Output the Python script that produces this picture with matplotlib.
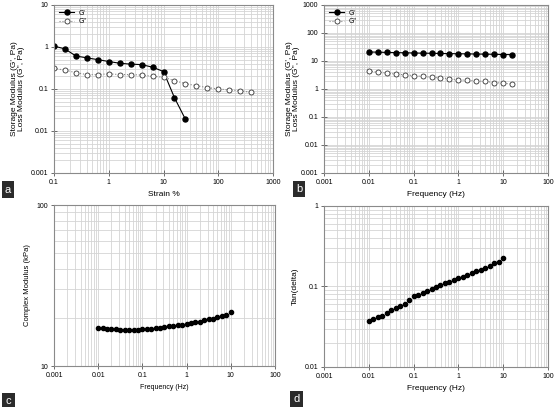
import numpy as np
import matplotlib
matplotlib.use('Agg')
from matplotlib import pyplot as plt
from matplotlib.ticker import LogLocator, FuncFormatter, NullFormatter

plt.rcParams['font.family'] = ['Liberation Sans', 'DejaVu Sans']

# Panel a: strain sweep
strain_g1 = [0.1, 0.158, 0.251, 0.398, 0.631, 1, 1.585, 2.512, 3.981, 6.31, 10, 15.85, 25.12]
g1_strain = [1.05, 0.9, 0.61, 0.55, 0.5, 0.45, 0.41, 0.39, 0.38, 0.33, 0.26, 0.062, 0.019]
strain_g2 = [0.1, 0.158, 0.251, 0.398, 0.631, 1, 1.585, 2.512, 3.981, 6.31, 10, 15.85, 25.12,
             39.81, 63.1, 100, 158.5, 251.2, 398.1]
g2_strain = [0.31, 0.28, 0.245, 0.22, 0.22, 0.23, 0.22, 0.22, 0.215, 0.2, 0.19, 0.158, 0.134,
             0.12, 0.108, 0.1, 0.095, 0.091, 0.083]

# Panel b: frequency sweep
freq_b = [0.01, 0.0158, 0.0251, 0.0398, 0.0631, 0.1, 0.158, 0.251, 0.398, 0.631, 1,
          1.585, 2.512, 3.981, 6.31, 10, 15.85]
g1_freq = [21, 20.6, 20.2, 19.9, 19.6, 19.3, 19.0, 18.8, 18.5, 18.3, 18.1,
           17.9, 17.7, 17.5, 17.3, 17.0, 16.8]
g2_freq = [4.4, 4.0, 3.7, 3.4, 3.2, 3.0, 2.8, 2.6, 2.5, 2.3, 2.1,
           2.05, 1.95, 1.85, 1.7, 1.6, 1.5]

# Panels c and d: 10 points per decade, 0.01 - 10 Hz
freq_cd = [0.01, 0.0126, 0.0158, 0.02, 0.0251, 0.0316, 0.0398, 0.0501, 0.0631, 0.0794,
           0.1, 0.126, 0.158, 0.2, 0.251, 0.316, 0.398, 0.501, 0.631, 0.794,
           1, 1.26, 1.58, 2.0, 2.51, 3.16, 3.98, 5.01, 6.31, 7.94, 10]
complex_mod = [17.3, 17.2, 17.0, 16.95, 16.9, 16.8, 16.8, 16.8, 16.8, 16.8,
               16.9, 16.95, 17.0, 17.2, 17.3, 17.45, 17.6, 17.8, 17.95, 18.1,
               18.3, 18.5, 18.75, 18.9, 19.2, 19.45, 19.7, 20.1, 20.4, 20.8, 21.7]
tan_delta = [0.0378, 0.0396, 0.042, 0.0436, 0.047, 0.0507, 0.0548, 0.0575, 0.0614, 0.0676,
             0.0766, 0.0773, 0.0827, 0.0883, 0.0927, 0.0982, 0.105, 0.109, 0.115, 0.12,
             0.127, 0.132, 0.137, 0.147, 0.156, 0.162, 0.169, 0.18, 0.193, 0.203, 0.226]

GRID = '#d4d4d4'
FRAME = '#8a8a8a'


def style_axes(ax, xlim, ylim, tick_fs=5):
    ax.set_xscale('log')
    ax.set_yscale('log')
    ax.set_xlim(*xlim)
    ax.set_ylim(*ylim)
    for ax_ in (ax.xaxis, ax.yaxis):
        ax_.set_major_locator(LogLocator(base=10, numticks=20))
        ax_.set_minor_locator(LogLocator(base=10, subs=np.arange(2, 10), numticks=20))
        ax_.set_major_formatter(FuncFormatter(lambda v, p: '{:g}'.format(v)))
        ax_.set_minor_formatter(NullFormatter())
    ax.grid(True, which='both', color=GRID, linewidth=0.6)
    ax.set_axisbelow(True)
    for s in ax.spines.values():
        s.set_color(FRAME)
        s.set_linewidth(0.8)
    ax.tick_params(which='major', direction='inout', length=4, width=0.6, color='#555555',
                   labelsize=tick_fs, pad=2)
    ax.tick_params(which='minor', length=0)


def panel_tag(fig, x, y, letter):
    fig.text(x, y, letter, color='white', fontsize=8, ha='center', va='center',
             bbox=dict(boxstyle='square,pad=0.3', fc='#2b2b2b', ec='none'))


fig = plt.figure(figsize=(5.55, 4.07), dpi=100)

# a
ax = fig.add_axes([0.0973, 0.575, 0.3946, 0.4128])
style_axes(ax, (0.1, 1000), (0.001, 10))
ax.plot(strain_g1, g1_strain, '-', color='black', lw=0.8, marker='o', ms=3.6,
        mfc='black', mec='black', label="G'")
ax.plot(strain_g2, g2_strain, ':', color='#888888', lw=0.8, marker='o', ms=3.6,
        mfc='white', mec='#333333', mew=0.6, label="G''")
ax.legend(loc='upper left', fontsize=5, frameon=False, handlelength=2.2,
          borderaxespad=0.3, labelspacing=0.2, handletextpad=0.6)
ax.set_xlabel('Strain %', fontsize=6, labelpad=4)
ax.set_ylabel("Storage Modulus (G', Pa)\nLoss Modulus (G'', Pa)", fontsize=6, labelpad=4,
              linespacing=1.0)

# b
ax = fig.add_axes([0.5838, 0.575, 0.4036, 0.4128])
style_axes(ax, (0.001, 100), (0.001, 1000))
ax.plot(freq_b, g1_freq, '-', color='black', lw=0.8, marker='o', ms=3.6,
        mfc='black', mec='black', label="G'")
ax.plot(freq_b, g2_freq, ':', color='#888888', lw=0.8, marker='o', ms=3.6,
        mfc='white', mec='#333333', mew=0.6, label="G''")
ax.legend(loc='upper left', fontsize=5, frameon=False, handlelength=2.2,
          borderaxespad=0.3, labelspacing=0.2, handletextpad=0.6)
ax.set_xlabel('Frequency (Hz)', fontsize=6, labelpad=4)
ax.set_ylabel("Storage Modulus (G', Pa)\nLoss Modulus (G'', Pa)", fontsize=6, labelpad=1,
              linespacing=1.0)

# c
ax = fig.add_axes([0.0973, 0.1007, 0.398, 0.3956])
style_axes(ax, (0.001, 100), (10, 100))
ax.plot(freq_cd, complex_mod, 'o', color='black', ms=3.0)
ax.set_xlabel('Frequency (Hz)', fontsize=5, labelpad=4)
ax.set_ylabel('Complex Modulus (kPa)', fontsize=5.5, labelpad=4)

# d
ax = fig.add_axes([0.5838, 0.0983, 0.4036, 0.3956])
style_axes(ax, (0.001, 100), (0.01, 1))
ax.plot(freq_cd, tan_delta, 'o', color='black', ms=3.0)
ax.set_xlabel('Frequency (Hz)', fontsize=6, labelpad=4)
ax.set_ylabel('Tan(delta)', fontsize=6, labelpad=4)

panel_tag(fig, 0.0144, 0.534, 'a')
panel_tag(fig, 0.5387, 0.5356, 'b')
panel_tag(fig, 0.0153, 0.0147, 'c')
panel_tag(fig, 0.535, 0.0197, 'd')

fig.savefig('out.png', dpi=100)
